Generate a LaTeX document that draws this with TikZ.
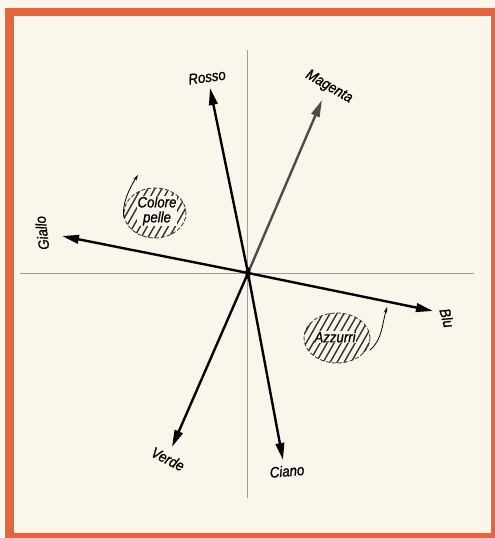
\documentclass[tikz,border=0pt]{standalone}
\usepackage{fontspec}
\newfontfamily\lblfont[FakeStretch=0.88,FakeBold=1]{Liberation Sans}
\usetikzlibrary{arrows.meta,calc}

\definecolor{paper}{HTML}{FBF6EC}
\definecolor{rim}{HTML}{E3653E}

\tikzset{
    vec/.style={line width=2.4pt,-{Triangle[length=17pt,width=8.5pt]}},
    axis/.style={gray!75,line width=0.8pt},
    lbl/.style={font=\lblfont\itshape\fontsize{15}{16}\selectfont,inner sep=1pt,align=center},
    zone/.style={draw=gray!40!black,line width=0.8pt,dash pattern=on 4pt off 2pt},
    hatch/.style={gray!40!black,line width=1.4pt},
    hint/.style={line width=0.8pt,-{Stealth[length=6pt,width=3.5pt]}}
}

\begin{document}
\begin{tikzpicture}[x=1pt,y=-1pt]
    % page and frame
    \fill[paper] (0,0) rectangle (495,538);
    \useasboundingbox (0,0) rectangle (495,538);
    \draw[rim,line width=8.5pt] (9.5,12) rectangle (495.5,537.5);

    % Define the points
    \coordinate (O) at (248,273);
    \coordinate (top) at (247,50);
    \coordinate (bottom) at (247,498);
    \coordinate (left) at (20,273);
    \coordinate (right) at (474,273);
    \coordinate (rosso) at (210,88);
    \coordinate (magenta) at (322,100);
    \coordinate (giallo) at (62,236);
    \coordinate (blu) at (433,311);
    \coordinate (verde) at (172,447);
    \coordinate (ciano) at (283,460);

    % Draw the axes
    \draw[axis] (top) -- (bottom);
    \draw[axis] (left) -- (right);

    % Hatched zones
    \coordinate (pc) at (155,213);
    \coordinate (ac) at (337,338);
    \begin{scope}
        \clip (pc) ellipse (31pt and 25pt);
        \foreach \i in {-7,...,7}
            \draw[hatch] ($(pc)+(\i*7-20,35)$) -- ($(pc)+(\i*7+20,-35)$);
    \end{scope}
    \begin{scope}
        \clip (ac) ellipse (33pt and 25pt);
        \foreach \i in {-7,...,7}
            \draw[hatch] ($(ac)+(\i*7-20,35)$) -- ($(ac)+(\i*7+20,-35)$);
    \end{scope}
    \draw[zone] (pc) ellipse (31pt and 25pt);
    \draw[zone] (ac) ellipse (33pt and 25pt);
    \node[lbl,fill=paper,inner sep=0.5pt] (pelle) at (157,211) {Colore\\[-1pt]pelle};
    \node[lbl,fill=paper,inner sep=0.5pt] (azzurri) at (335,337) {Azzurri};
    \coordinate (p1) at (124,218);
    \coordinate (p2) at (138,175);
    \coordinate (a1) at (370,350);
    \coordinate (a2) at (387,307);
    \draw[hint] (p1) .. controls (121,205) and (130,187) .. (p2);
    \draw[hint] (a1) .. controls (382,340) and (382,325) .. (a2);

    % Draw the colour vectors
    \draw[vec] (O) -- (rosso);
    \draw[vec,black!70] (O) -- (magenta);
    \draw[vec] (O) -- (giallo);
    \draw[vec] (O) -- (blu);
    \draw[vec] (O) -- (verde);
    \draw[vec] (O) -- (ciano);
    \fill (O) ellipse (2.5pt and 6pt);

    % Place the labels
    \node[lbl,rotate=8] (lrosso) at (207,77) {Rosso};
    \node[lbl,rotate=-30] (lmagenta) at (329,87) {Magenta};
    \node[lbl,rotate=97] (lgiallo) at (42,233) {Giallo};
    \node[lbl,rotate=-75] (lblu) at (447,318) {Blu};
    \node[lbl,rotate=-27] (lverde) at (168,459) {Verde};
    \node[lbl,rotate=5] (lciano) at (287,471) {Ciano};
\end{tikzpicture}
\end{document}
